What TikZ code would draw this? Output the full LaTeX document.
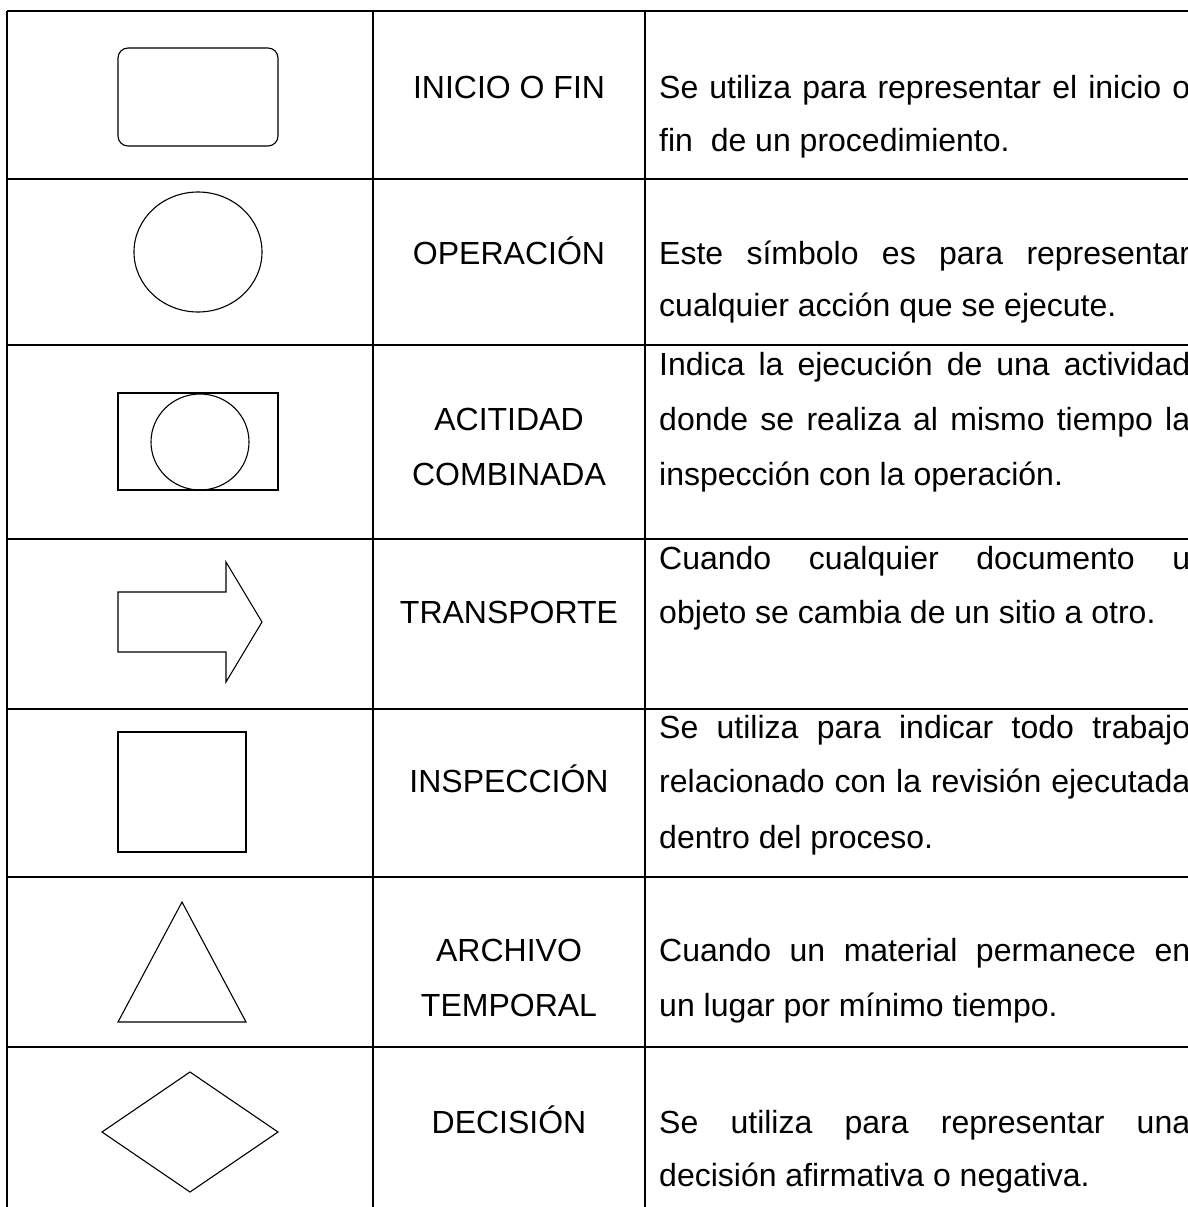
\documentclass[tikz,border=0pt]{standalone}
\usepackage{fontspec}
\setmainfont{Liberation Sans}
\usetikzlibrary{shapes.geometric}
\hbadness=10000
\hfuzz=200pt
\newlength\jw
\setlength\jw{531pt}
\newcommand\jline[1]{\hbox to \jw{#1}}
\begin{document}
\begin{tikzpicture}[x=1pt,y=-1pt,
  gridline/.style={line width=1.4pt},
  shp/.style={draw, line width=1.1pt, inner sep=0pt, outer sep=0pt},
  lbl/.style={anchor=base, inner sep=0pt, font=\fontsize{32}{38}\selectfont},
  desc/.style={anchor=base west, inner sep=0pt, font=\fontsize{32}{38}\selectfont}]
\useasboundingbox (0,0) rectangle (1188,1207);
\clip (0,0) rectangle (1188,1207);
% grid
\draw[gridline] (7,11) -- (1200,11);
\foreach \yy in {179,345,539,709,877,1047}
  \draw[gridline] (7,\yy) -- (1200,\yy);
\foreach \xx in {7,373,645}
  \draw[gridline] (\xx,11) -- (\xx,1220);
% shapes
\node[shp, rectangle, rounded corners=10pt, minimum width=160pt, minimum height=98pt] (s1) at (198,97) {};
\node[shp, ellipse, minimum width=128pt, minimum height=120pt] (s2) at (198,252) {};
\node[shp, rectangle, minimum width=160pt, minimum height=97pt] (s3r) at (198,441.5) {};
\node[shp, ellipse, minimum width=98pt, minimum height=96pt] (s3c) at (200,442) {};
\draw[line width=1.1pt] (118,592) -- (226,592) -- (226,562) -- (262,622) -- (226,682) -- (226,652) -- (118,652) -- cycle;
\node[shp, rectangle, minimum width=128pt, minimum height=120pt] (s5) at (182,792) {};
\draw[line width=1.1pt] (182,902) -- (246,1022) -- (118,1022) -- cycle;
\draw[line width=1.1pt] (190,1072) -- (278,1132) -- (190,1192) -- (102,1132) -- cycle;
% names
\node[lbl] (n1) at (509,98.7) {INICIO O FIN};
\node[lbl] (n2) at (509,264.3) {OPERACIÓN};
\node[lbl] (n3a) at (509,430) {ACITIDAD};
\node[lbl] (n3b) at (509,485.7) {COMBINADA};
\node[lbl] (n4) at (509,623.3) {TRANSPORTE};
\node[lbl] (n5) at (509,792.7) {INSPECCIÓN};
\node[lbl] (n6a) at (509,961.7) {ARCHIVO};
\node[lbl] (n6b) at (509,1016.7) {TEMPORAL};
\node[lbl] (n7) at (509,1133.3) {DECISIÓN};
% descriptions
\node[desc] (d1a) at (659,98.7) {\jline{Se utiliza para representar el inicio o}};
\node[desc] (d1b) at (659,151.7) {fin\ \ de un procedimiento.};
\node[desc] (d2a) at (659,264.3) {\jline{Este símbolo es para representar}};
\node[desc] (d2b) at (659,316.7) {cualquier acción que se ejecute.};
\node[desc] (d3a) at (659,375.7) {\jline{Indica la ejecución de una actividad}};
\node[desc] (d3b) at (659,430) {\jline{donde se realiza al mismo tiempo la}};
\node[desc] (d3c) at (659,485.7) {inspección con la operación.};
\node[desc] (d4a) at (659,569) {\jline{Cuando cualquier documento u}};
\node[desc] (d4b) at (659,623.3) {objeto se cambia de un sitio a otro.};
\node[desc] (d5a) at (659,738.3) {\jline{Se utiliza para indicar todo trabajo}};
\node[desc] (d5b) at (659,792.7) {\jline{relacionado con la revisión ejecutada}};
\node[desc] (d5c) at (659,848.3) {dentro del proceso.};
\node[desc] (d6a) at (659,961.7) {\jline{Cuando un material permanece en}};
\node[desc] (d6b) at (659,1016.7) {un lugar por mínimo tiempo.};
\node[desc] (d7a) at (659,1133.3) {\jline{Se utiliza para representar una}};
\node[desc] (d7b) at (659,1186.7) {decisión afirmativa o negativa.};
\end{tikzpicture}
\end{document}
